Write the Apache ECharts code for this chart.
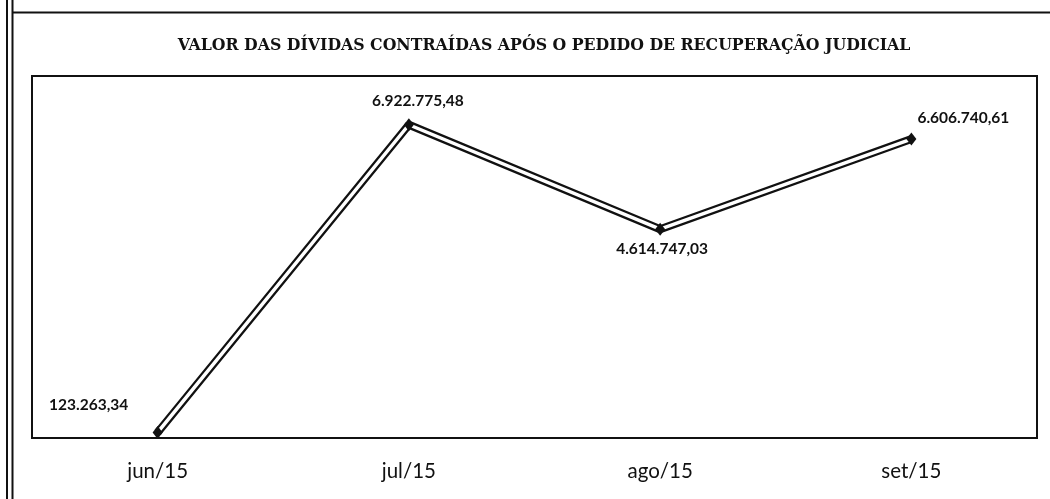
<!DOCTYPE html>
<html>
<head>
<meta charset="utf-8">
<script src="https://cdn.jsdelivr.net/npm/echarts@6/dist/echarts.min.js"></script>
<style>
  html, body { margin: 0; padding: 0; background: #fff; }
  #chart { width: 1050px; height: 499px; }
</style>
</head>
<body>
<div id="chart"></div>
<script>
// Dívidas contraídas após o pedido de recuperação judicial (R$)
const titleText = 'VALOR DAS DÍVIDAS CONTRAÍDAS APÓS O PEDIDO DE RECUPERAÇÃO JUDICIAL';
const months = ['jun/15', 'jul/15', 'ago/15', 'set/15'];
const debtValues = [123263.34, 6922775.48, 4614747.03, 6606740.61];
const valueLabels = ['123.263,34', '6.922.775,48', '4.614.747,03', '6.606.740,61'];

// label placement around each point
const labelOffsets = [[-69, -27], [9, -24], [2, 20], [52, -21]];

const chart = echarts.init(document.getElementById('chart'), null, { renderer: 'canvas' });

const labelFont = {
  fontFamily: 'Lato, "Open Sans", sans-serif',
  fontWeight: 'bold',
  fontSize: 15.5,
  color: '#111'
};

const whiteData = debtValues.map((v, i) => ({
  value: v,
  label: Object.assign({
    show: true,
    position: 'inside',
    offset: labelOffsets[i],
    formatter: () => valueLabels[i]
  }, labelFont)
}));

chart.setOption({
  animation: false,
  backgroundColor: '#ffffff',
  title: {
    text: titleText,
    left: 539,
    top: 31,
    textAlign: 'center',
    textStyle: {
      fontFamily: '"DejaVu Serif Condensed", "DejaVu Serif", serif',
      fontWeight: 'bold',
      fontSize: 17.5,
      color: '#111'
    }
  },
  grid: {
    left: 32,
    right: 13,
    top: 76,
    height: 362,
    show: true,
    borderColor: '#111',
    borderWidth: 2,
    backgroundColor: 'transparent'
  },
  xAxis: {
    type: 'category',
    data: months,
    boundaryGap: true,
    axisLine: { show: false },
    axisTick: { show: false },
    axisLabel: {
      margin: 23,
      fontFamily: 'Lato, "Open Sans", sans-serif',
      fontSize: 20.5,
      color: '#111'
    }
  },
  yAxis: {
    type: 'value',
    min: 0,
    max: 8000000,
    show: false,
    splitLine: { show: false }
  },
  series: [
    {
      // dark outer stroke of the double line
      type: 'line',
      data: debtValues,
      symbol: 'none',
      lineStyle: { color: '#111', width: 8 },
      z: 2
    },
    {
      // white core of the double line, with diamond markers
      type: 'line',
      data: whiteData,
      symbol: 'diamond',
      symbolSize: [10, 13],
      itemStyle: { color: '#111' },
      lineStyle: { color: '#fff', width: 3.5 },
      z: 3
    }
  ],
  graphic: [
    { type: 'line', shape: { x1: 7, y1: 0, x2: 7, y2: 499 }, style: { stroke: '#111', lineWidth: 2 } },
    { type: 'line', shape: { x1: 12.5, y1: 0, x2: 12.5, y2: 499 }, style: { stroke: '#111', lineWidth: 2 } },
    { type: 'line', shape: { x1: 12, y1: 12.5, x2: 1050, y2: 12.5 }, style: { stroke: '#111', lineWidth: 2 } }
  ]
});
</script>
</body>
</html>
